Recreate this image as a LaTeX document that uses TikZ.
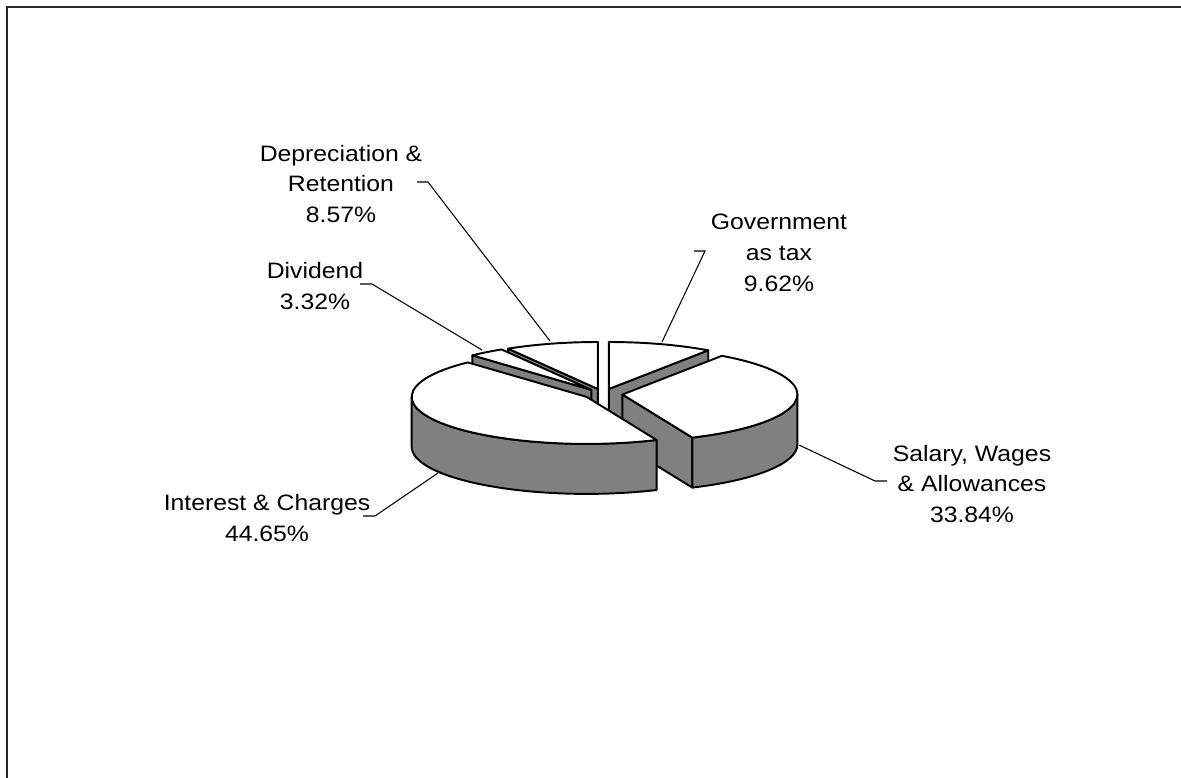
\documentclass[tikz,border=0pt]{standalone}
\usepackage{fontspec}
\setmainfont{Liberation Sans}
\usetikzlibrary{calc}
\definecolor{sidegray}{HTML}{808080}
\begin{document}
\begin{tikzpicture}[x=0.02cm,y=0.02cm,
  topface/.style={fill=white,draw=black,line width=1.1pt,line join=round},
  wall/.style={fill=sidegray,draw=black,line width=1.1pt,line join=round},
  leader/.style={draw=black,line width=0.6pt},
  lbl/.style={align=center,font=\fontsize{12.7pt}{17.6pt}\selectfont,xscale=1.11,inner sep=0pt},
  frame/.style={draw=black!85,line width=1.2pt},
  pie/.style={x radius=175,y radius=47}]
\def\DP{50}
\useasboundingbox (0,0) rectangle (1181,-778);
\draw[frame] (7,-790) -- (7,-7) -- (1190,-7);

% slice centres (exploded)
\coordinate (cD) at (597.8,-389.0);
\coordinate (cG) at (608.8,-389.0);
\coordinate (cV) at (591.3,-389.8);
\coordinate (cS) at (622.4,-394.5);
\coordinate (cI) at (586.7,-396.9);

% Depreciation & Retention (90 .. 120.852)
\path[wall] (cD) -- ($(cD)+(120.852:175 and 47)$) -- ++(0,-\DP) -- ($(cD)+(0,-\DP)$) -- cycle;
\path[topface] (cD) -- ($(cD)+(90:175 and 47)$) arc[pie,start angle=90,end angle=120.852] -- cycle;

% Government as tax (55.368 .. 90)
\path[wall] (cG) -- ($(cG)+(55.368:175 and 47)$) -- ++(0,-\DP) -- ($(cG)+(0,-\DP)$) -- cycle;
\path[topface] (cG) -- ($(cG)+(55.368:175 and 47)$) arc[pie,start angle=55.368,end angle=90] -- cycle;

% Dividend (120.852 .. 132.804)
\path[wall] (cV) -- ($(cV)+(132.804:175 and 47)$) -- ++(0,-\DP) -- ($(cV)+(0,-\DP)$) -- cycle;
\path[topface] (cV) -- ($(cV)+(120.852:175 and 47)$) arc[pie,start angle=120.852,end angle=132.804] -- cycle;

% Salary, Wages & Allowances (-66.456 .. 55.368)
\path[wall] (cS) -- ($(cS)+(-66.456:175 and 47)$) -- ++(0,-\DP) -- ($(cS)+(0,-\DP)$) -- cycle;
\path[wall] ($(cS)+(-66.456:175 and 47)$) arc[pie,start angle=-66.456,end angle=0] -- ++(0,-\DP) arc[pie,start angle=0,end angle=-66.456] -- cycle;
\path[topface] (cS) -- ($(cS)+(-66.456:175 and 47)$) arc[pie,start angle=-66.456,end angle=55.368] -- cycle;

% Interest & Charges (132.804 .. 293.544)
\path[wall] ($(cI)+(180:175 and 47)$) arc[pie,start angle=180,end angle=293.544] -- ++(0,-\DP) arc[pie,start angle=293.544,end angle=180] -- cycle;
\path[topface] (cI) -- ($(cI)+(132.804:175 and 47)$) arc[pie,start angle=132.804,end angle=293.544] -- cycle;

% labels
\node[lbl] (lDep) at (341,-184) {Depreciation \&\\Retention\\8.57\%};
\node[lbl] (lDiv) at (315,-286) {Dividend\\3.32\%};
\node[lbl] (lGov) at (779,-253) {Government\\as tax\\9.62\%};
\node[lbl] (lSal) at (972,-484) {Salary, Wages\\\& Allowances\\33.84\%};
\node[lbl] (lInt) at (267,-518) {Interest \& Charges\\44.65\%};

% leader lines
\coordinate (dA) at (417,-182); \coordinate (dB) at (428,-182); \coordinate (dC) at (550,-341);
\coordinate (vA) at (360,-284); \coordinate (vB) at (372,-284); \coordinate (vC) at (482,-350);
\coordinate (gA) at (694,-251); \coordinate (gB) at (705,-251); \coordinate (gC) at (662,-342);
\coordinate (sA) at (887,-481); \coordinate (sB) at (875,-481); \coordinate (sC) at (799,-445);
\coordinate (iA) at (363,-516); \coordinate (iB) at (375,-516); \coordinate (iC) at (438,-473);
\draw[leader] (dA) -- (dB) -- (dC);
\draw[leader] (vA) -- (vB) -- (vC);
\draw[leader] (gA) -- (gB) -- (gC);
\draw[leader] (sA) -- (sB) -- (sC);
\draw[leader] (iA) -- (iB) -- (iC);
\end{tikzpicture}
\end{document}
